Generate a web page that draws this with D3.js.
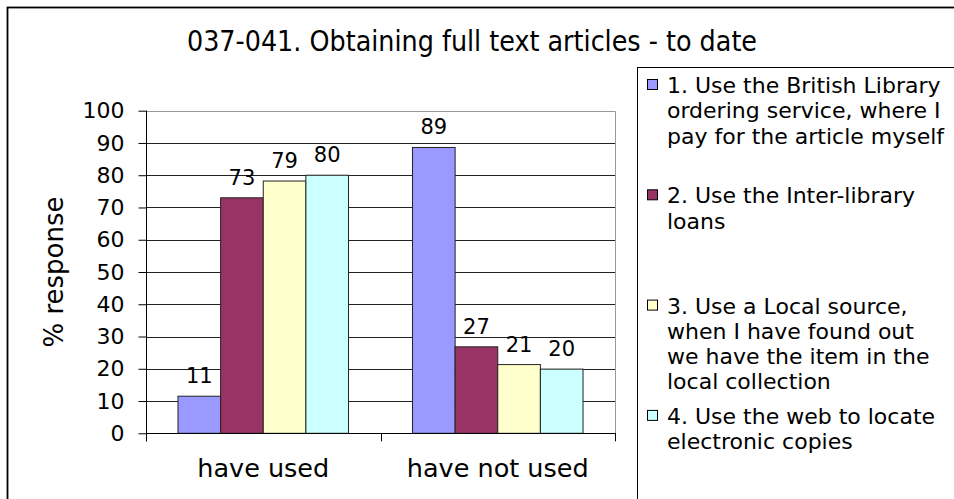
<!DOCTYPE html>
<html>
<head>
<meta charset="utf-8">
<script src="https://cdn.jsdelivr.net/npm/d3@7"></script>
<style>
  body { margin: 0; background: #fff; }
  text { font-family: "DejaVu Sans", Verdana, sans-serif; fill: #000; }
</style>
</head>
<body>
<div id="chart"></div>
<script>
var title = "037-041. Obtaining full text articles - to date";
var categories = ["have used", "have not used"];
var seriesNames = [
  "1. Use the British Library ordering service, where I pay for the article myself",
  "2. Use the Inter-library loans",
  "3. Use a Local source, when I have found out we have the item in the local collection",
  "4. Use the web to locate electronic copies"
];
// legend lines as wrapped in the picture
var legendLines = [
  ["1. Use the British Library", "ordering service, where I", "pay for the article myself"],
  ["2. Use the Inter-library", "loans"],
  ["3. Use a Local source,", "when I have found out", "we have the item in the", "local collection"],
  ["4. Use the web to locate", "electronic copies"]
];
// bar heights per series, for [have used, have not used]
var britishLibrary = [11.5, 88.6];
var interLibrary = [73.0, 26.8];
var localSource = [78.2, 21.3];
var webCopies = [80.0, 19.9];
// data labels as printed
var britishLabels = ["11", "89"];
var interLabels = ["73", "27"];
var localLabels = ["79", "21"];
var webLabels = ["80", "20"];
var yTicks = [0, 10, 20, 30, 40, 50, 60, 70, 80, 90, 100];
var colors = ["#9999FF", "#993366", "#FFFFCC", "#CCFFFF"];

var width = 954, height = 499;
var plot = {left: 146, right: 615, top: 110.7, bottom: 433.3};

var seriesValues = [britishLibrary, interLibrary, localSource, webCopies];
var seriesLabels = [britishLabels, interLabels, localLabels, webLabels];

var svg = d3.select("#chart").append("svg")
    .attr("width", width)
    .attr("height", height);

// outer chart border (runs off the picture right and bottom)
svg.append("rect")
    .attr("x", 7.5).attr("y", 7.5)
    .attr("width", 1100).attr("height", 700)
    .attr("fill", "#fff")
    .attr("stroke", "#000")
    .attr("stroke-width", 1.8);

svg.append("text")
    .attr("x", 472)
    .attr("y", 51)
    .attr("text-anchor", "middle")
    .style("font-family", "'DejaVu Sans Condensed', 'DejaVu Sans', sans-serif")
    .style("font-size", "28.3px")
    .text(title);

var y = d3.scaleLinear().domain([0, 100]).range([plot.bottom, plot.top]);
var x0 = d3.scaleBand().domain(categories).range([plot.left, plot.right]);
var gap = 1.5;
var barW = x0.bandwidth() / (seriesNames.length + gap);
var x1 = d3.scaleBand()
    .domain(d3.range(seriesNames.length))
    .range([barW * gap / 2, x0.bandwidth() - barW * gap / 2]);

// gridlines
svg.append("g")
    .selectAll("line")
    .data(yTicks.filter(function (t) { return t > 0 && t < 100; }))
    .enter().append("line")
    .attr("x1", plot.left).attr("x2", plot.right)
    .attr("y1", function (d) { return Math.round(y(d)) + 0.5; })
    .attr("y2", function (d) { return Math.round(y(d)) + 0.5; })
    .attr("stroke", "#222")
    .attr("stroke-width", 1);

// plot area border top/right
svg.append("path")
    .attr("d", "M" + plot.left + "," + (Math.round(plot.top) + 0.5) +
        "H" + (Math.round(plot.right) + 0.5) + "V" + plot.bottom)
    .attr("fill", "none")
    .attr("stroke", "#999")
    .attr("stroke-width", 1);

// bars
var groups = svg.append("g")
    .selectAll("g")
    .data(seriesValues)
    .enter().append("g")
    .attr("fill", function (d, i) { return colors[i]; });

groups.selectAll("rect")
    .data(function (d, i) {
        return d.map(function (v, j) { return {s: i, c: j, v: v}; });
    })
    .enter().append("rect")
    .attr("x", function (d) { return x0(categories[d.c]) + x1(d.s); })
    .attr("y", function (d) { return y(d.v); })
    .attr("width", x1.bandwidth())
    .attr("height", function (d) { return y(0) - y(d.v); })
    .attr("stroke", "#222")
    .attr("stroke-width", 1);

groups.selectAll("text")
    .data(function (d, i) {
        return d.map(function (v, j) { return {s: i, c: j, v: v}; });
    })
    .enter().append("text")
    .attr("x", function (d) { return x0(categories[d.c]) + x1(d.s) + x1.bandwidth() / 2; })
    .attr("y", function (d) { return y(d.v) - 13; })
    .attr("text-anchor", "middle")
    .style("font-size", "21px")
    .style("fill", "#000")
    .text(function (d) { return seriesLabels[d.s][d.c]; });

// y axis
var yAxis = svg.append("g")
    .attr("transform", "translate(" + (plot.left + 0.5) + ",0)")
    .call(d3.axisLeft(y).tickValues(yTicks).tickSize(8).tickPadding(14));
yAxis.select(".domain").remove();
yAxis.selectAll("line").attr("stroke", "#000");
yAxis.selectAll("text")
    .style("font-size", "22px")
    .style("font-family", "'DejaVu Sans', sans-serif")
    .attr("fill", "#000");
svg.append("line")
    .attr("x1", plot.left + 0.5).attr("x2", plot.left + 0.5)
    .attr("y1", plot.top).attr("y2", plot.bottom + 8)
    .attr("stroke", "#000");

// x axis
svg.append("line")
    .attr("x1", plot.left).attr("x2", plot.right + 1)
    .attr("y1", Math.round(plot.bottom) + 0.5).attr("y2", Math.round(plot.bottom) + 0.5)
    .attr("stroke", "#000");
var xTickPos = categories.map(function (c) { return x0(c); }).concat([plot.right]);
svg.append("g").selectAll("line")
    .data(xTickPos)
    .enter().append("line")
    .attr("x1", function (d) { return Math.round(d) + 0.5; })
    .attr("x2", function (d) { return Math.round(d) + 0.5; })
    .attr("y1", plot.bottom).attr("y2", plot.bottom + 8)
    .attr("stroke", "#000");
svg.append("g").selectAll("text")
    .data(categories)
    .enter().append("text")
    .attr("x", function (d) { return x0(d) + x0.bandwidth() / 2; })
    .attr("y", 477)
    .attr("text-anchor", "middle")
    .style("font-size", "25.5px")
    .text(function (d) { return d; });

// y axis title
svg.append("text")
    .attr("transform", "translate(63," + ((plot.top + plot.bottom) / 2) + ") rotate(-90)")
    .attr("text-anchor", "middle")
    .style("font-size", "26px")
    .text("% response");

// legend
svg.append("rect")
    .attr("x", 637.5).attr("y", 67.5)
    .attr("width", 500).attr("height", 600)
    .attr("fill", "#fff")
    .attr("stroke", "#000")
    .attr("stroke-width", 1);

var legend = svg.append("g").selectAll("g")
    .data(legendLines)
    .enter().append("g")
    .attr("transform", function (d, i) { return "translate(0," + (93 + i * 110.3) + ")"; });

legend.append("rect")
    .attr("x", 647.5).attr("y", -13.5)
    .attr("width", 10).attr("height", 10)
    .attr("fill", function (d, i) { return colors[i]; })
    .attr("stroke", "#000");

legend.append("text")
    .attr("x", 667)
    .style("font-size", "22px")
    .selectAll("tspan")
    .data(function (d) { return d; })
    .enter().append("tspan")
    .attr("x", 667)
    .attr("y", function (d, i) { return i * 25.3; })
    .text(function (d) { return d; });
</script>
</body>
</html>
